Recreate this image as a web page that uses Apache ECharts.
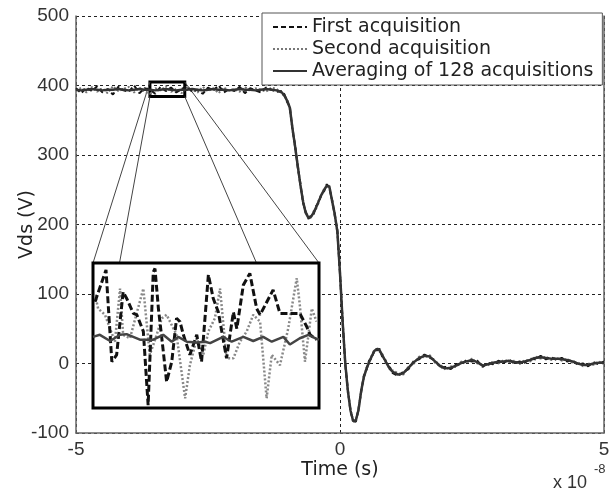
<!DOCTYPE html>
<html><head><meta charset="utf-8">
<script src="https://cdn.jsdelivr.net/npm/echarts@6/dist/echarts.min.js"></script>
<style>html,body{margin:0;padding:0;background:#fff}#c{width:613px;height:492px}</style>
</head><body><div id="c"></div>
<script>
// time axis in units of 1e-8 s
const mainTime = [
 -5.0,-4.9,-4.8,-4.7,-4.6,-4.5,-4.4,-4.3,-4.2,-4.1,-4.0,-3.9,-3.8,-3.7,-3.6,-3.5,-3.4,-3.3,-3.2,-3.1,
 -3.0,-2.9,-2.8,-2.7,-2.6,-2.5,-2.4,-2.3,-2.2,-2.1,-2.0,-1.9,-1.8,-1.7,-1.6,-1.5,-1.4,-1.3,-1.2,
 -1.1,-1.05,-1.0,-0.95,-0.9,-0.85,-0.8,-0.75,-0.7,-0.65,-0.6,-0.55,-0.5,-0.45,-0.4,-0.35,-0.3,-0.25,-0.2,-0.15,
 -0.1,-0.05,0,0.05,0.1,0.15,0.2,0.25,0.3,0.35,0.4,0.45,0.5,0.55,0.6,0.65,0.7,0.75,0.8,0.85,0.9,0.95,1.0,
 1.1,1.2,1.3,1.4,1.5,1.6,1.7,1.8,1.9,2.0,2.1,2.2,2.3,2.4,2.5,2.6,2.7,2.8,2.9,3.0,
 3.1,3.2,3.3,3.4,3.5,3.6,3.7,3.8,3.9,4.0,4.1,4.2,4.3,4.4,4.5,4.6,4.7,4.8,4.9,5.0
];
const firstAcq = [
 396,389,397,392,399,390,395,387,398,393,391,400,389,396,394,388,398,392,397,390,
 395,399,391,394,388,397,393,400,390,395,392,398,389,396,393,390,397,394,391,
 392,387,376,370,336,314,282,259,231,219,208,213,215,227,232,245,248,258,252,236,
 213,192,128,62,-2,-38,-70,-81,-84,-65,-42,-18,-10,4,8,20,19,21,10,7,-4,-6,-14,
 -18,-12,-8,4,6,13,8,5,-6,-5,-8,-1,-1,5,3,4,-5,1,-1,4,
 1,6,0,3,1,7,6,11,6,9,5,8,3,5,-2,0,-4,2,-1,3
];
const secondAcq = [
 392,397,390,398,391,396,389,399,392,395,398,390,397,391,388,396,393,399,391,395,
 389,397,394,390,398,392,396,389,397,393,395,391,398,392,396,394,391,397,395,
 389,384,380,366,340,310,286,255,235,215,212,209,219,223,236,241,252,254,256,232,
 217,188,132,58,2,-42,-66,-85,-80,-69,-38,-22,-6,0,12,16,23,17,14,3,0,-10,-10,
 -14,-16,-4,0,10,9,12,1,-2,-9,-4,-5,3,1,7,0,-1,-3,3,0,
 5,2,4,-1,5,3,10,7,10,5,9,4,7,1,2,-4,0,-2,3,-1
];
const averaged = [
 394,393,394,395,394,393,394,394,395,394,393,394,395,394,394,393,394,395,394,393,
 394,394,395,394,393,394,395,394,394,393,394,395,394,394,393,394,395,394,393,
 390,385,378,368,338,312,284,257,233,217,210,211,217,225,234,243,250,256,254,234,
 215,190,130,60,0,-40,-68,-83,-82,-67,-40,-20,-8,2,10,18,21,19,12,5,-2,-8,-12,
 -16,-14,-6,2,8,11,10,3,-4,-7,-6,-3,1,3,5,2,-3,-1,1,2,
 3,4,2,1,3,5,8,9,8,7,7,6,5,3,0,-2,-2,0,1,1
];

// zoomed window shown in the inset
const zoomX = [-3.6, -2.94];
const zoomY = [384, 405];

const insetFirstT = [-3.594,-3.562,-3.545,-3.531,-3.512,-3.502,-3.482,-3.472,-3.453,-3.439,-3.424,-3.419,-3.409,-3.399,-3.385,-3.370,-3.356,-3.346,-3.336,-3.317,-3.297,-3.283,-3.263,-3.249,-3.234,-3.210,-3.190,-3.180,-3.161,-3.142,-3.122,-3.112,-3.074,-3.054,-3.015,-2.996,-2.976,-2.966,-2.947];
const insetFirstV = [399.4,404.0,390.7,391.7,400.8,399.9,397.7,397.5,395.1,384.4,403.7,404.2,398.4,394.1,387.8,390.7,397.0,396.5,394.6,391.7,394.6,390.7,403.3,399.9,397.9,391.2,397.9,395.5,401.8,403.5,398.4,397.5,401.1,397.7,397.7,397.7,395.8,394.6,393.9];
const insetSecondT = [-3.594,-3.585,-3.565,-3.536,-3.521,-3.512,-3.492,-3.453,-3.439,-3.434,-3.414,-3.399,-3.385,-3.356,-3.331,-3.317,-3.297,-3.278,-3.263,-3.244,-3.229,-3.220,-3.210,-3.190,-3.171,-3.151,-3.132,-3.112,-3.093,-3.078,-3.054,-3.030,-3.005,-2.996,-2.981,-2.961,-2.947];
const insetSecondV = [400.4,398.4,397.5,393.6,401.3,394.6,394.1,401.3,394.1,391.7,394.6,397.0,397.5,394.6,385.4,390.2,394.1,391.7,395.1,397.0,401.3,396.5,391.2,391.2,393.6,395.1,397.5,396.5,385.4,391.7,390.2,395.5,402.8,398.9,390.7,398.4,396.5];
const insetAvgT = [-3.600,-3.580,-3.550,-3.521,-3.502,-3.463,-3.424,-3.395,-3.370,-3.351,-3.326,-3.297,-3.273,-3.258,-3.220,-3.195,-3.161,-3.132,-3.103,-3.078,-3.044,-3.025,-2.996,-2.971,-2.947,-2.940];
const insetAvgV = [394.3,394.6,393.7,394.6,394.7,393.9,393.9,394.6,393.6,394.3,393.6,393.5,393.6,393.4,394.3,393.6,394.3,393.7,394.3,393.6,394.3,393.2,394.1,394.6,394.0,393.9];

const seriesNames = ['First acquisition', 'Second acquisition', 'Averaging of 128 acquisitions'];
const xTicks = { min: -5, max: 5, step: 5 };
const yTicks = { min: -100, max: 500, step: 100 };

const zip = (t, v) => t.map((x, i) => [x, v[i]]);

const chart = echarts.init(document.getElementById('c'), null, { renderer: 'canvas' });
const gridLine = { show: true, lineStyle: { color: '#222', type: [3, 3], width: 1 } };
const axisCol = '#666';
const labelFont = { fontFamily: 'Liberation Sans', fontSize: 19, color: '#333' };
const nameFont = { fontFamily: 'DejaVu Sans', fontSize: 19, color: '#222' };

const insetRect = { left: 93, top: 263, width: 226, height: 145 };

chart.setOption({
  animation: false,
  grid: [
    { left: 76, right: 9, top: 16, bottom: 59, show: false, outerBoundsMode: 'none', containLabel: false },
    { left: insetRect.left, top: insetRect.top, width: insetRect.width, height: insetRect.height,
      show: true, backgroundColor: '#fff', borderColor: '#000', borderWidth: 3, z: 10, outerBoundsMode: 'none' }
  ],
  xAxis: [
    { gridIndex: 0, type: 'value', min: xTicks.min, max: xTicks.max, interval: xTicks.step,
      axisLine: { show: true, onZero: false, lineStyle: { color: axisCol, width: 1.5 } },
      axisTick: { show: false }, splitLine: gridLine,
      axisLabel: Object.assign({ margin: 7 }, labelFont),
      name: 'Time (s)', nameLocation: 'middle', nameGap: 28, nameMoveOverlap: false, nameTextStyle: nameFont },
    { gridIndex: 1, type: 'value', min: zoomX[0], max: zoomX[1], show: false, splitLine: { show: false } }
  ],
  yAxis: [
    { gridIndex: 0, type: 'value', min: yTicks.min, max: yTicks.max, interval: yTicks.step,
      axisLine: { show: true, onZero: false, lineStyle: { color: axisCol, width: 1.5 } },
      axisTick: { show: false }, splitLine: gridLine,
      axisLabel: Object.assign({ margin: 7 }, labelFont),
      name: 'Vds (V)', nameLocation: 'middle', nameGap: 39, nameMoveOverlap: false, nameTextStyle: nameFont },
    { gridIndex: 0, type: 'value', position: 'right', min: yTicks.min, max: yTicks.max, interval: yTicks.step,
      axisLine: { show: true, onZero: false, lineStyle: { color: axisCol, width: 1.5 } },
      axisTick: { show: false }, axisLabel: { show: false }, splitLine: { show: false } },
    { gridIndex: 1, type: 'value', min: zoomY[0], max: zoomY[1], show: false, splitLine: { show: false } }
  ],
  legend: {
    data: seriesNames, orient: 'vertical', left: 262, top: 13,
    backgroundColor: '#fff', borderColor: '#555', borderWidth: 1,
    padding: [4, 9, 4, 10], itemGap: 2, itemWidth: 34, itemHeight: 14,
    selectedMode: false,
    itemStyle: { opacity: 0 },
    lineStyle: { width: 2 },
    textStyle: { fontFamily: 'DejaVu Sans', fontSize: 19, color: '#222', lineHeight: 20 }
  },
  series: [
    { name: seriesNames[1], type: 'line', xAxisIndex: 0, yAxisIndex: 0, data: zip(mainTime, secondAcq),
      symbol: 'none', itemStyle: { color: '#777' }, lineStyle: { color: '#777', width: 2, type: [2, 2] }, z: 3 },
    { name: seriesNames[0], type: 'line', xAxisIndex: 0, yAxisIndex: 0, data: zip(mainTime, firstAcq),
      symbol: 'none', itemStyle: { color: '#111' }, lineStyle: { color: '#111', width: 2, type: [5, 3] }, z: 3 },
    { name: seriesNames[2], type: 'line', xAxisIndex: 0, yAxisIndex: 0, data: zip(mainTime, averaged),
      symbol: 'none', itemStyle: { color: '#333' }, lineStyle: { color: '#333', width: 2.5 }, z: 4,
      markArea: { silent: true, itemStyle: { color: 'rgba(0,0,0,0)', borderColor: '#000', borderWidth: 3 },
        data: [[{ coord: [zoomX[0], zoomY[1]] }, { coord: [zoomX[1], zoomY[0]] }]] } },
    { name: 'inset second', type: 'line', xAxisIndex: 1, yAxisIndex: 2, data: zip(insetSecondT, insetSecondV),
      symbol: 'none', lineStyle: { color: '#888', width: 2.5, type: [2, 2] }, z: 11 },
    { name: 'inset first', type: 'line', xAxisIndex: 1, yAxisIndex: 2, data: zip(insetFirstT, insetFirstV),
      symbol: 'none', lineStyle: { color: '#111', width: 3, type: [7, 3] }, z: 12 },
    { name: 'inset avg', type: 'line', xAxisIndex: 1, yAxisIndex: 2, data: zip(insetAvgT, insetAvgV),
      symbol: 'none', lineStyle: { color: '#444', width: 2.5 }, z: 13 }
  ]
});

// connector lines from zoom box corners to inset corners
const corner = (gi, x, y) => chart.convertToPixel({ gridIndex: gi }, [x, y]);
const pairs = [
  [corner(0, zoomX[0], zoomY[1]), corner(1, zoomX[0], zoomY[1])],
  [corner(0, zoomX[0], zoomY[0]), corner(1, zoomX[0], zoomY[0])],
  [corner(0, zoomX[1], zoomY[1]), corner(1, zoomX[1], zoomY[1])],
  [corner(0, zoomX[1], zoomY[0]), corner(1, zoomX[1], zoomY[0])]
];
const graphics = pairs.map(p => ({
  type: 'line', z: 1, silent: true,
  shape: { x1: p[0][0], y1: p[0][1], x2: p[1][0], y2: p[1][1] },
  style: { stroke: '#444', lineWidth: 1 }
}));
graphics.push({ type: 'text', z: 20, left: 553, top: 474,
  style: { text: 'x 10', font: '18px "Liberation Sans"', fill: '#333' } });
graphics.push({ type: 'text', z: 20, left: 594, top: 463,
  style: { text: '-8', font: '13px "Liberation Sans"', fill: '#333' } });
chart.setOption({ graphic: graphics });
</script>
</body></html>
